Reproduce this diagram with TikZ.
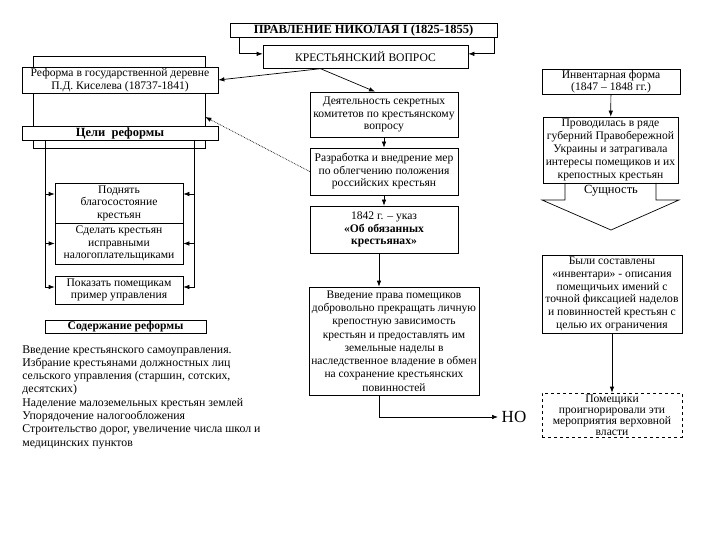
\documentclass[tikz,border=0pt]{standalone}
\usepackage{fontspec}
\setmainfont{Liberation Serif}
\usetikzlibrary{arrows.meta}
\begin{document}
\begin{tikzpicture}[x=1pt,y=-1pt,>={Latex[length=6pt,width=4.5pt]},line width=0.7pt,
		box/.style={draw,fill=white,align=center,inner sep=1pt,font=\fontsize{11.6}{12.5}\selectfont},
		txt/.style={inner sep=0pt,font=\fontsize{11.8}{13.3}\selectfont}]
		\useasboundingbox (0,0) rectangle (720,540);
		\fill[white] (0,0) rectangle (720,540);

		\node[box,minimum width=267pt,minimum height=14pt,font=\fontsize{12.5}{13}\selectfont\bfseries] (title) at (363.5,30) {ПРАВЛЕНИЕ НИКОЛАЯ I (1825-1855)};
		\node[box,minimum width=205pt,minimum height=23pt,font=\fontsize{11.6}{13}\selectfont,anchor=north] (vopros) at (365.5,45) {КРЕСТЬЯНСКИЙ ВОПРОС};
		\draw[->] ([xshift=10]title.south west) |- ([yshift=3]vopros.west);
		\draw[->] ([xshift=-3]title.south east) |- ([yshift=3]vopros.east);

		\node[draw,minimum width=172pt,minimum height=92pt] (frame) at (119,102) {};
		\node[box,minimum width=196pt,minimum height=26pt] (reform) at (120,80) {Реформа в государственной деревне\\П.Д. Киселева (18737-1841)};
		\node[box,minimum width=196pt,minimum height=14pt,font=\fontsize{12.5}{12.5}\selectfont\bfseries] (celi) at (120,133) {Цели\ \ реформы};

		\node[box,minimum width=128pt,minimum height=40pt] (g1) at (119,203) {Поднять\\благосостояние\\крестьян};
		\node[box,minimum width=128pt,minimum height=41pt] (g2) at (119,243.5) {Сделать крестьян\\исправными\\налогоплательщиками};
		\node[box,minimum width=128pt,minimum height=28pt] (g3) at (119,290) {Показать помещикам\\пример управления};
		\coordinate (la) at (45,140);
		\coordinate (ra) at (194,140);
		\draw[->] (la) |- ([yshift=3]g3.west);
		\draw[->] ([yshift=9]g1.west -| la) -- ([yshift=9]g1.west);
		\draw[->] (g2.west -| la) -- (g2.west);
		\draw[->] (ra) |- ([yshift=3]g3.east);
		\draw[->] ([yshift=9]g1.east -| ra) -- ([yshift=9]g1.east);
		\draw[->] (g2.east -| ra) -- (g2.east);

		\node[box,minimum width=161pt,minimum height=12pt,font=\fontsize{11.6}{11.6}\selectfont\bfseries] (sod) at (125.5,327) {Содержание реформы};
		\node[txt,anchor=north west,align=left] (sodtxt) at (22,345) {Введение крестьянского самоуправления.\\Избрание крестьянами должностных лиц\\сельского управления (старшин, сотских,\\десятских)\\Наделение малоземельных крестьян землей\\Упорядочение налогообложения\\Строительство дорог, увеличение числа школ и\\медицинских пунктов};

		\node[box,minimum width=148pt,minimum height=45pt] (d1) at (384,114.5) {Деятельность секретных\\комитетов по крестьянскому\\вопросу};
		\node[box,minimum width=148pt,minimum height=47pt] (d2) at (384,171.5) {Разработка и внедрение мер\\по облегчению положения\\российских крестьян};
		\node[box,minimum width=148pt,minimum height=47pt] (d3) at (384,229.5) {1842 г. – указ\\\textbf{«Об обязанных}\\\textbf{крестьянах»}};
		\node[box,minimum width=170pt,minimum height=108pt,font=\fontsize{11.5}{13.3}\selectfont] (d4) at (394,341) {Введение права помещиков\\добровольно прекращать личную\\крепостную зависимость\\крестьян и предоставлять им\\земельные наделы в\\наследственное владение в обмен\\на сохранение крестьянских\\повинностей};
		\node[font=\fontsize{17}{17}\selectfont] (no) at (514,417) {НО};

		\draw[->] ([xshift=-45]vopros.south) -- (reform.east);
		\draw[->] ([xshift=-45]vopros.south) -- ([xshift=-9]d1.north);
		\draw[->,densely dotted] (d2.west) -- ([yshift=-15]frame.east);
		\draw[->] (d1) -- (d2);
		\draw[->] (d2) -- (d3);
		\draw[->] ([xshift=-5]d3.south) -- ([xshift=-5]d3.south |- d4.north);
		\draw[->] ([xshift=-15]d4.south) |- (no.west);

		\node[box,minimum width=138pt,minimum height=23pt] (r1) at (611,81.5) {Инвентарная форма\\(1847 – 1848 гг.)};
		\node[box,minimum width=135pt,minimum height=66pt,font=\fontsize{11.6}{13}\selectfont] (r2) at (610.5,150) {Проводилась в ряде\\губерний Правобережной\\Украины и затрагивала\\интересы помещиков и их\\крепостных крестьян};
		\draw[->] (r1) -- (r2);
		\draw (565,183) -- (565,200) -- (542,200) -- (611,230) -- (679,200) -- (656,200) -- (656,183);
		\node[txt,font=\fontsize{12.5}{13}\selectfont] (sush) at (611,191) {Сущность};

		\node[box,minimum width=140pt,minimum height=78pt,font=\fontsize{11.6}{12.8}\selectfont] (r3) at (612,294) {Были составлены\\«инвентари» - описания\\помещичьих имений с\\точной фиксацией наделов\\и повинностей крестьян с\\целью их ограничения};
		\node[box,dashed,minimum width=140pt,minimum height=44pt,font=\fontsize{11.6}{11}\selectfont] (r4) at (612,415) {Помещики\\проигнорировали эти\\мероприятия верховной\\власти};
		\draw[->] (r3) -- (r4);

	\end{tikzpicture}
\end{document}
